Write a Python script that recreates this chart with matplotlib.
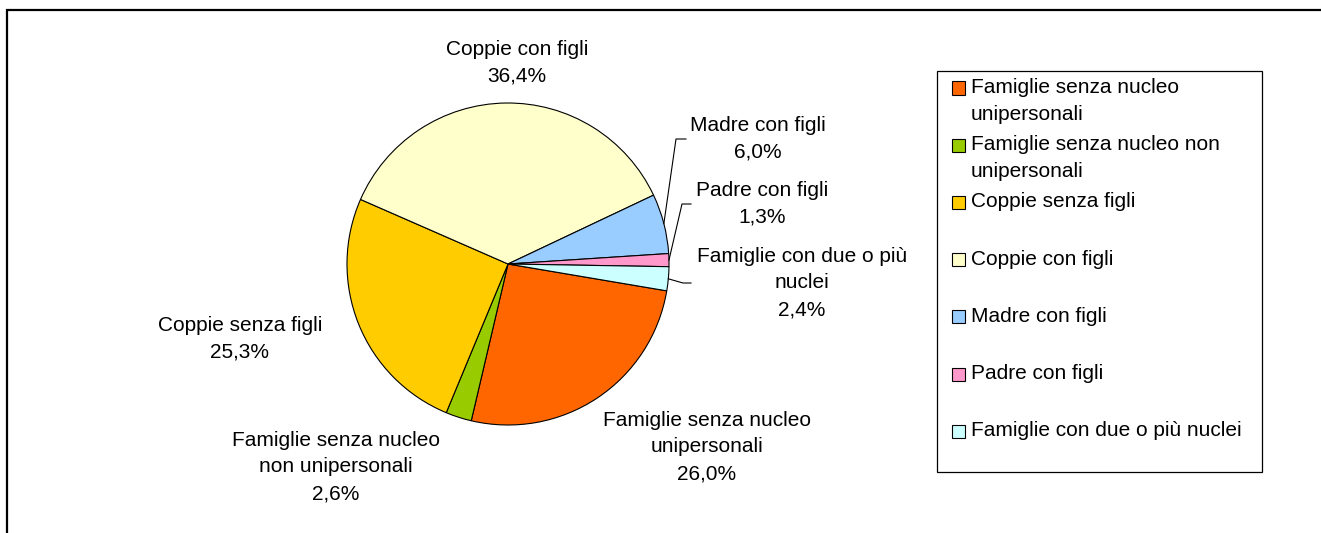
import matplotlib
matplotlib.use("Agg")
import matplotlib.pyplot as plt
from matplotlib.patches import Rectangle
import numpy as np

plt.rcParams['font.family'] = ['Liberation Sans', 'DejaVu Sans']

# data
categorie = ["Famiglie senza nucleo unipersonali",
             "Famiglie senza nucleo non unipersonali",
             "Coppie senza figli",
             "Coppie con figli",
             "Madre con figli",
             "Padre con figli",
             "Famiglie con due o più nuclei"]
valori = [26.0, 2.6, 25.3, 36.4, 6.0, 1.3, 2.4]
colori = ["#FF6600", "#99CC00", "#FFCC00", "#FFFFCC", "#99CCFF", "#FF99CC", "#CCFFFF"]

# wrapped label text, as in the excel chart
etichette = ["Famiglie senza nucleo\nunipersonali",
             "Famiglie senza nucleo\nnon unipersonali",
             "Coppie senza figli",
             "Coppie con figli",
             "Madre con figli",
             "Padre con figli",
             "Famiglie con due o più\nnuclei"]
voci_legenda = ["Famiglie senza nucleo\nunipersonali",
                "Famiglie senza nucleo non\nunipersonali",
                "Coppie senza figli",
                "Coppie con figli",
                "Madre con figli",
                "Padre con figli",
                "Famiglie con due o più nuclei"]

W, H = 1321, 533
fig = plt.figure(figsize=(W / 100, H / 100), dpi=100)

# pie geometry in pixels
cx, cy, r = 508, 264, 161
ax = fig.add_axes([(cx - r) / W, (H - cy - r) / H, 2 * r / W, 2 * r / H])


def px(x, y):
    # reference pixel -> pie data coords
    return (x - cx) / r, (cy - y) / r


wedges, _ = ax.pie(valori, colors=colori, startangle=-9.6, counterclock=False,
                   radius=1, wedgeprops=dict(edgecolor="black", linewidth=0.8),
                   frame=True)
ax.set_xlim(-1, 1)
ax.set_ylim(-1, 1)
ax.axis("off")

# label centres (pixel positions of text block centre)
pos_etichette = [(707, 447), (336, 467), (240, 339), (517, 63),
                 (758, 139), (762, 204), (802, 283)]
# labels with leader lines: index -> (elbow x, end x)
leader = {4: (676, 686), 5: (682, 691), 6: (683, 691)}

fs = 15
ls = 1.5
for i, (lab, v) in enumerate(zip(etichette, valori)):
    x, y = px(*pos_etichette[i])
    testo = lab + "\n" + ("%.1f%%" % v).replace(".", ",")
    ax.text(x, y, testo, ha="center", va="center", fontsize=fs,
            linespacing=ls, multialignment="center")
    if i in leader:
        w = wedges[i]
        ang = np.deg2rad((w.theta1 + w.theta2) / 2)
        ex, ey = np.cos(ang), np.sin(ang)
        ey_px = pos_etichette[i][1]
        bx, by = px(leader[i][0], ey_px)
        tx, ty = px(leader[i][1], ey_px)
        ax.plot([ex, bx, tx], [ey, by, ty], color="black", lw=0.8,
                clip_on=False)

# legend drawn excel-like: equal slots, text top aligned
lx0, ly0, lx1, ly1 = 937, 71, 1262, 472
fig.patches.append(Rectangle((lx0 / W, 1 - ly1 / H), (lx1 - lx0) / W,
                             (ly1 - ly0) / H, transform=fig.transFigure,
                             fill=False, edgecolor="black", lw=0.9))
slot = 57.2
for i, (lab, c) in enumerate(zip(voci_legenda, colori)):
    ytop = 88 + i * slot
    fig.patches.append(Rectangle((952 / W, 1 - (ytop + 6.5) / H), 13 / W, 13 / H,
                                 transform=fig.transFigure, facecolor=c,
                                 edgecolor="black", lw=0.8))
    fig.text(971 / W, 1 - (ytop - 10) / H, lab, ha="left", va="top",
             fontsize=fs, linespacing=ls)

# outer chart border (runs past the right and bottom edge)
fig.patches.append(Rectangle((7 / W, -0.1), (W + 20) / W, 1.1 - 10 / H,
                             transform=fig.transFigure, fill=False,
                             edgecolor="black", lw=1.6))

fig.savefig("out.png", dpi=100)
